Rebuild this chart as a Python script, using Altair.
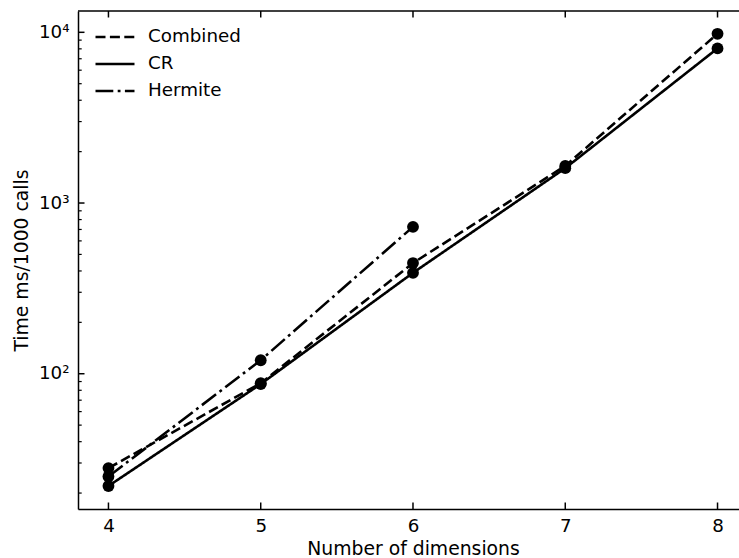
import altair as alt
import pandas as pd

# Timing results (ms per 1000 calls) by number of dimensions
dims = [4, 5, 6, 7, 8]
combined_ms = [28, 88, 445, 1650, 9800]
cr_ms = [22, 87, 390, 1600, 8050]
hermite_dims = [4, 5, 6]
hermite_ms = [25, 120, 725]

series_names = ["Combined", "CR", "Hermite"]
x_ticks = [4, 5, 6, 7, 8]
y_major = [100, 1000, 10000]
y_minor = [m * 10 ** e for e in (1, 2, 3) for m in range(2, 10)]

W, H = 661, 498
FONT = "DejaVu Sans"

rows = (
    [{"dims": d, "ms": v, "method": "Combined"} for d, v in zip(dims, combined_ms)]
    + [{"dims": d, "ms": v, "method": "CR"} for d, v in zip(dims, cr_ms)]
    + [{"dims": d, "ms": v, "method": "Hermite"} for d, v in zip(hermite_dims, hermite_ms)]
)
df = pd.DataFrame(rows)

x_scale = alt.Scale(domain=[3.8, 8.141], nice=False, zero=False)
y_scale = alt.Scale(type="log", domain=[16.13, 13330], nice=False)
dash_scale = alt.Scale(
    domain=series_names,
    range=[[10, 4.4], [1, 0], [17.8, 4.4, 2.8, 4.4]],
)

x_axis = alt.Axis(
    values=x_ticks, format="d", title="Number of dimensions",
    ticks=False, tickSize=0, grid=False,
    domainColor="black", domainWidth=1.5,
    labelBaseline="alphabetic", labelPadding=22.5,
    titleBaseline="alphabetic", titleY=45.5, titleX=335, titleAlign="center",
)
y_axis = alt.Axis(
    values=y_major,
    labelExpr="'10' + (datum.value == 100 ? '²' : datum.value == 1000 ? '³' : '⁴')",
    title="Time ms/1000 calls",
    ticks=False, tickSize=0, grid=False,
    domainColor="black", domainWidth=1.5,
    labelPadding=9,
    titleBaseline="alphabetic", titleX=-51, titleY=H / 2, titleAngle=270,
)

lines = alt.Chart(df).mark_line(color="black", strokeWidth=2.6).encode(
    x=alt.X("dims:Q", scale=x_scale, axis=x_axis),
    y=alt.Y("ms:Q", scale=y_scale, axis=y_axis),
    strokeDash=alt.StrokeDash(
        "method:N", scale=dash_scale,
        legend=alt.Legend(
            title=None, orient="none", legendX=16, legendY=12.5,
            symbolType="stroke", symbolSize=1521, symbolStrokeWidth=2.6,
            symbolStrokeColor="black", labelFont=FONT, labelFontSize=18.3,
            labelColor="black", labelOffset=12, rowPadding=0, padding=0,
            clipHeight=27,
        ),
    ),
)

points = alt.Chart(df).mark_circle(color="black", size=140, opacity=1).encode(
    x=alt.X("dims:Q", scale=x_scale),
    y=alt.Y("ms:Q", scale=y_scale),
)

# Inward-facing tick marks
bottom_ticks = alt.Chart(pd.DataFrame({"dims": x_ticks})).mark_rule(
    color="black", strokeWidth=1.5
).encode(
    x=alt.X("dims:Q", scale=x_scale),
    y=alt.value(H), y2=alt.value(H - 6.5),
)
top_ticks = alt.Chart(pd.DataFrame({"dims": x_ticks})).mark_rule(
    color="black", strokeWidth=1.5
).encode(
    x=alt.X("dims:Q", scale=x_scale),
    y=alt.value(0), y2=alt.value(6.5),
)
left_major = alt.Chart(pd.DataFrame({"ms": y_major})).mark_rule(
    color="black", strokeWidth=1.5
).encode(
    y=alt.Y("ms:Q", scale=y_scale),
    x=alt.value(0), x2=alt.value(6.5),
)
left_minor = alt.Chart(pd.DataFrame({"ms": y_minor})).mark_rule(
    color="black", strokeWidth=1.2
).encode(
    y=alt.Y("ms:Q", scale=y_scale),
    x=alt.value(0), x2=alt.value(3.7),
)
top_spine = alt.Chart(pd.DataFrame({"k": [0]})).mark_rule(
    color="black", strokeWidth=1.5
).encode(x=alt.value(0), x2=alt.value(W), y=alt.value(0))

chart = (
    alt.layer(lines, bottom_ticks, top_ticks, left_major, left_minor, top_spine, points)
    .properties(
        width=W, height=H,
        autosize=alt.AutoSizeParams(type="none"),
        padding={"left": 78, "top": 11, "right": 0, "bottom": 49},
    )
    .configure_view(stroke=None)
    .configure_axis(
        labelFont=FONT, titleFont=FONT, labelFontSize=18.3, titleFontSize=18.8,
        labelColor="black", titleColor="black", titleFontWeight="normal",
    )
)

chart.save("out.html", embed_options={"renderer": "svg", "actions": False})
